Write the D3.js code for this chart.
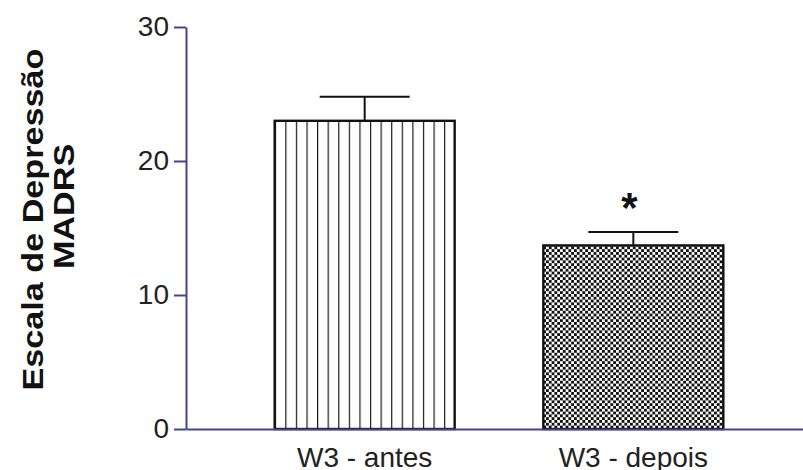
<!DOCTYPE html>
<html>
<head>
<meta charset="utf-8">
<script src="https://cdn.jsdelivr.net/npm/d3@7"></script>
<style>
  html, body { margin: 0; padding: 0; background: #fff; }
  svg { display: block; font-family: "Liberation Sans", Arial, sans-serif; }
</style>
</head>
<body>
<svg id="chart" width="803" height="470"></svg>
<script>
// MADRS depression scores before and after treatment (mean ± SEM)
const categories = ["W3 - antes", "W3 - depois"];
const means = [23.0, 13.7];
const sem = [1.8, 1.0];
const marks = ["", "*"];
const yTicks = [0, 10, 20, 30];
const yTitle = ["Escala de Depressão", "MADRS"];

const svg = d3.select("#chart");
const axisColor = "#45458f";

const y = d3.scaleLinear().domain([0, 30]).range([429, 27]);
const x = d3.scaleBand().domain(categories).range([186, 812])
  .paddingInner(0.33).paddingOuter(0.33);

// fill patterns: vertical hatching and fine checkerboard
const defs = svg.append("defs");
const hatch = defs.append("pattern")
  .attr("id", "vhatch")
  .attr("patternUnits", "userSpaceOnUse")
  .attr("x", x(categories[0]))
  .attr("width", x.bandwidth() / 17)
  .attr("height", 10);
hatch.append("rect").attr("width", x.bandwidth() / 17).attr("height", 10).attr("fill", "#fff");
hatch.append("line")
  .attr("x1", 0.6).attr("x2", 0.6).attr("y1", 0).attr("y2", 10)
  .attr("stroke", "#1a1a1a").attr("stroke-width", 1.2);

const cell = 2.8;
const checker = defs.append("pattern")
  .attr("id", "checker")
  .attr("patternUnits", "userSpaceOnUse")
  .attr("width", cell * 2)
  .attr("height", cell * 2);
checker.append("rect").attr("width", cell * 2).attr("height", cell * 2).attr("fill", "#fff");
checker.append("rect").attr("width", cell).attr("height", cell).attr("fill", "#111");
checker.append("rect").attr("x", cell).attr("y", cell).attr("width", cell).attr("height", cell).attr("fill", "#111");

const fills = ["url(#vhatch)", "url(#checker)"];

// error bars (upper half only)
const eb = svg.append("g").attr("stroke", "#111").attr("stroke-width", 2);
categories.forEach((c, i) => {
  const cx = x(c) + x.bandwidth() / 2;
  const capHalf = x.bandwidth() / 4;
  eb.append("line").attr("x1", cx).attr("x2", cx)
    .attr("y1", y(means[i])).attr("y2", y(means[i] + sem[i]));
  eb.append("line").attr("x1", cx - capHalf).attr("x2", cx + capHalf)
    .attr("y1", y(means[i] + sem[i])).attr("y2", y(means[i] + sem[i]));
});

// bars
svg.append("g").selectAll("rect")
  .data(categories)
  .join("rect")
  .attr("x", d => x(d))
  .attr("y", (d, i) => y(means[i]))
  .attr("width", x.bandwidth())
  .attr("height", (d, i) => y(0) - y(means[i]))
  .attr("fill", (d, i) => fills[i])
  .attr("stroke", "#111")
  .attr("stroke-width", 2.4);

// significance marker
svg.append("g").selectAll("text")
  .data(categories)
  .join("text")
  .attr("x", d => x(d) + x.bandwidth() / 2 - 4)
  .attr("y", (d, i) => y(means[i] + sem[i]) - 10)
  .attr("text-anchor", "middle")
  .attr("font-size", 42)
  .attr("font-weight", "bold")
  .attr("fill", "#111")
  .text((d, i) => marks[i]);

// y axis
const gy = svg.append("g")
  .attr("transform", "translate(186,0)")
  .call(d3.axisLeft(y).tickValues(yTicks).tickSize(12).tickSizeOuter(0).tickPadding(5));
gy.select(".domain").attr("stroke", axisColor).attr("stroke-width", 2);
gy.selectAll(".tick line").attr("stroke", axisColor).attr("stroke-width", 2);
gy.selectAll(".tick text").attr("font-size", 28).attr("fill", "#222")
  .attr("font-family", "'Liberation Sans', Arial, sans-serif");

// x axis
const gx = svg.append("g")
  .attr("transform", "translate(0,429)")
  .call(d3.axisBottom(x).tickSize(0).tickSizeOuter(0).tickPadding(18));
gx.select(".domain").attr("stroke", axisColor).attr("stroke-width", 2);
gx.selectAll(".tick text").attr("font-size", 28).attr("fill", "#222")
  .attr("font-family", "'Liberation Sans', Arial, sans-serif");

// y axis title
const title = svg.append("g")
  .attr("transform", "translate(0,215) rotate(-90) scale(1.14,1)")
  .attr("font-size", 30)
  .attr("font-weight", "bold")
  .attr("fill", "#111")
  .attr("text-anchor", "middle");
title.append("text").attr("x", -4).attr("y", 43).text(yTitle[0]);
title.append("text").attr("x", 7.5).attr("y", 74).text(yTitle[1]);
</script>
</body>
</html>
